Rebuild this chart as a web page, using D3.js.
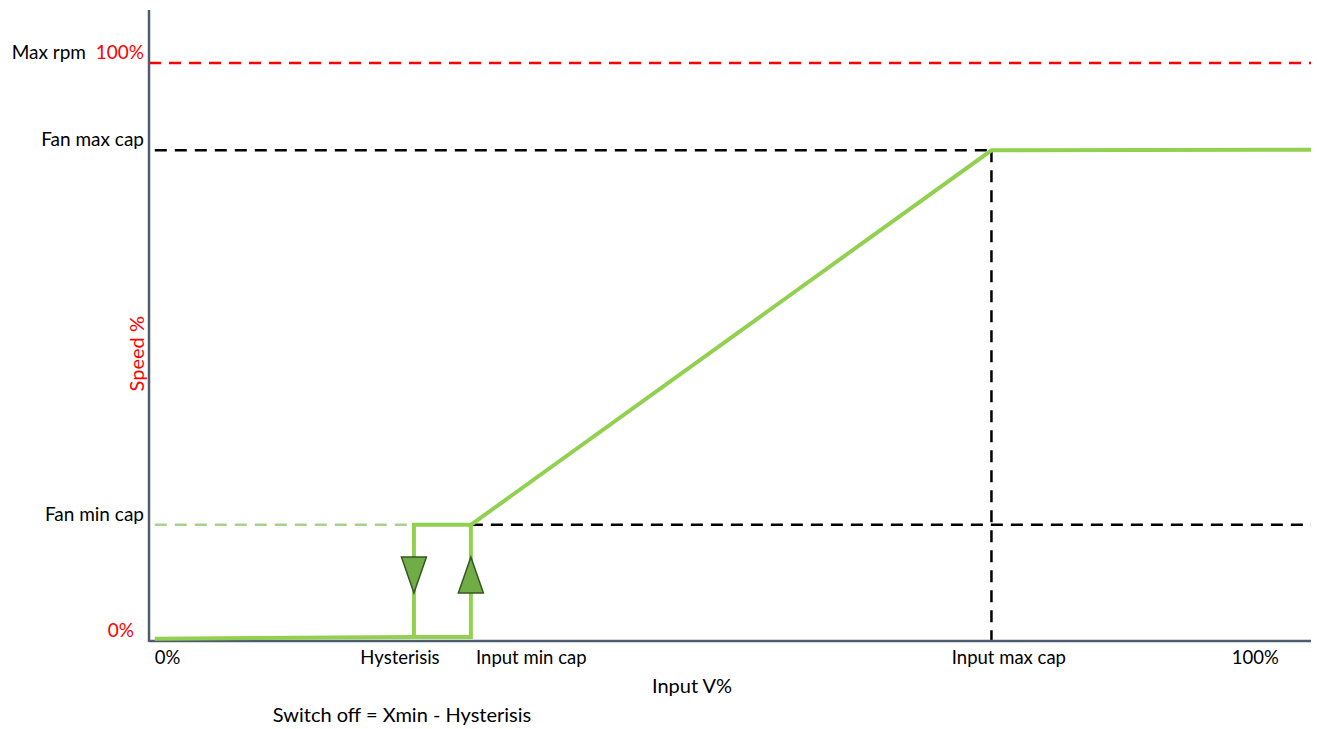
<!DOCTYPE html>
<html><head><meta charset="utf-8">
<script src="https://cdn.jsdelivr.net/npm/d3@7"></script>
<style>body{margin:0;background:#fff}text{font-family:Lato,"Open Sans",sans-serif}</style>
</head><body><svg id="c" width="1317" height="729"></svg>
<script>
// Levels (% of input / speed)
const inputLevels = {hyst: 22.8, minCap: 27.7, maxCap: 72.5};
const speedLevels = {maxRpm: 100, fanMax: 84.9, fanMin: 20.1};
// fan curve (input %, speed %)
const curveX = [0.5, 22.8, 27.7, 27.7, 72.5, 100];
const curveY = [0.4, 0.7, 0.7, 20.1, 84.9, 85.0];
// hysteresis return path
const hystX = [22.8, 22.8, 27.7];
const hystY = [0.7, 20.1, 20.1];
// x tick labels: [text, position]
const xTickText = ["0%", "Hysterisis", "Input min cap", "Input max cap", "100%"];
const xTickPos = [1.6, 21.6, 32.9, 74.0, 95.2];
const yTickText = ["Fan max cap", "Fan min cap"];
const yTickPos = [84.9, 20.1];

const svg = d3.select("#c");
const x = d3.scaleLinear().domain([0, 100]).range([149, 1311]);
const y = d3.scaleLinear().domain([0, 100]).range([641, 63]);
const green = "#92d050";
const dash = "12,8";

// dashed guides
svg.append("line").attr("x1", x(0)).attr("x2", x(100)).attr("y1", y(100)).attr("y2", y(100))
  .attr("stroke", "#ff0000").attr("stroke-width", 2.5).attr("stroke-dasharray", dash);
svg.append("line").attr("x1", x(0.5)).attr("x2", x(inputLevels.maxCap)).attr("y1", y(speedLevels.fanMax)).attr("y2", y(speedLevels.fanMax))
  .attr("stroke", "#000").attr("stroke-width", 2.5).attr("stroke-dasharray", dash);
svg.append("line").attr("x1", x(inputLevels.minCap)).attr("x2", x(100)).attr("y1", y(speedLevels.fanMin)).attr("y2", y(speedLevels.fanMin))
  .attr("stroke", "#000").attr("stroke-width", 2.5).attr("stroke-dasharray", dash);
svg.append("line").attr("x1", x(inputLevels.maxCap)).attr("x2", x(inputLevels.maxCap)).attr("y1", y(speedLevels.fanMax)).attr("y2", y(0))
  .attr("stroke", "#000").attr("stroke-width", 2.5).attr("stroke-dasharray", dash);
svg.append("line").attr("x1", x(0.5)).attr("x2", x(inputLevels.hyst)).attr("y1", y(speedLevels.fanMin)).attr("y2", y(speedLevels.fanMin))
  .attr("stroke", "#a9d18e").attr("stroke-width", 2.5).attr("stroke-dasharray", dash);

// axes
svg.append("line").attr("x1", x(0)).attr("x2", x(0)).attr("y1", 10).attr("y2", y(0)+1)
  .attr("stroke", "#4f5b6e").attr("stroke-width", 2.5);
svg.append("line").attr("x1", x(0)).attr("x2", x(100)).attr("y1", y(0)).attr("y2", y(0))
  .attr("stroke", "#4f5b6e").attr("stroke-width", 2.5);

// curves
const line = d3.line().x(d => x(d[0])).y(d => y(d[1]));
svg.append("path").attr("d", line(curveX.map((v, i) => [v, curveY[i]])))
  .attr("fill", "none").attr("stroke", green).attr("stroke-width", 4);
svg.append("path").attr("d", line(hystX.map((v, i) => [v, hystY[i]])))
  .attr("fill", "none").attr("stroke", green).attr("stroke-width", 4);

// arrows
function tri(cx, yTop, yBot, down) {
  const w = 12.5;
  const pts = down ? [[cx - w, yTop], [cx + w, yTop], [cx, yBot]] : [[cx, yTop], [cx + w, yBot], [cx - w, yBot]];
  svg.append("path").attr("d", "M" + pts.map(p => p.join(",")).join("L") + "Z")
    .attr("fill", "#70ad47").attr("stroke", "#375623").attr("stroke-width", 1.5);
}
tri(x(inputLevels.hyst), 557, 593, true);
tri(x(inputLevels.minCap), 557, 593, false);

// y labels
svg.append("text").attr("x", 86).attr("y", y(100) - 4).attr("text-anchor", "end").attr("font-size", 19).attr("fill", "#000").text("Max rpm");
svg.append("text").attr("x", 144).attr("y", y(100) - 4).attr("text-anchor", "end").attr("font-size", 19).attr("fill", "#ff0000").text("100%");
yTickText.forEach((t, i) => svg.append("text").attr("x", 144).attr("y", y(yTickPos[i]) - 4)
  .attr("text-anchor", "end").attr("font-size", 19).attr("fill", "#000").text(t));
svg.append("text").attr("x", 134).attr("y", y(0) - 4).attr("text-anchor", "end").attr("font-size", 19).attr("fill", "#ff0000").text("0%");
svg.append("text").attr("transform", `translate(144,${y(49.7)}) rotate(-90)`).attr("text-anchor", "middle")
  .attr("font-size", 20).attr("fill", "#ff0000").text("Speed %");

// x labels
xTickText.forEach((t, i) => svg.append("text").attr("x", x(xTickPos[i])).attr("y", 664)
  .attr("text-anchor", "middle").attr("font-size", 18.5).attr("fill", "#000").text(t));
svg.append("text").attr("x", 692).attr("y", 693).attr("text-anchor", "middle").attr("font-size", 20).attr("fill", "#000").text("Input V%");
svg.append("text").attr("x", 402).attr("y", 722).attr("text-anchor", "middle").attr("font-size", 20).attr("fill", "#000").text("Switch off = Xmin - Hysterisis");
</script></body></html>
